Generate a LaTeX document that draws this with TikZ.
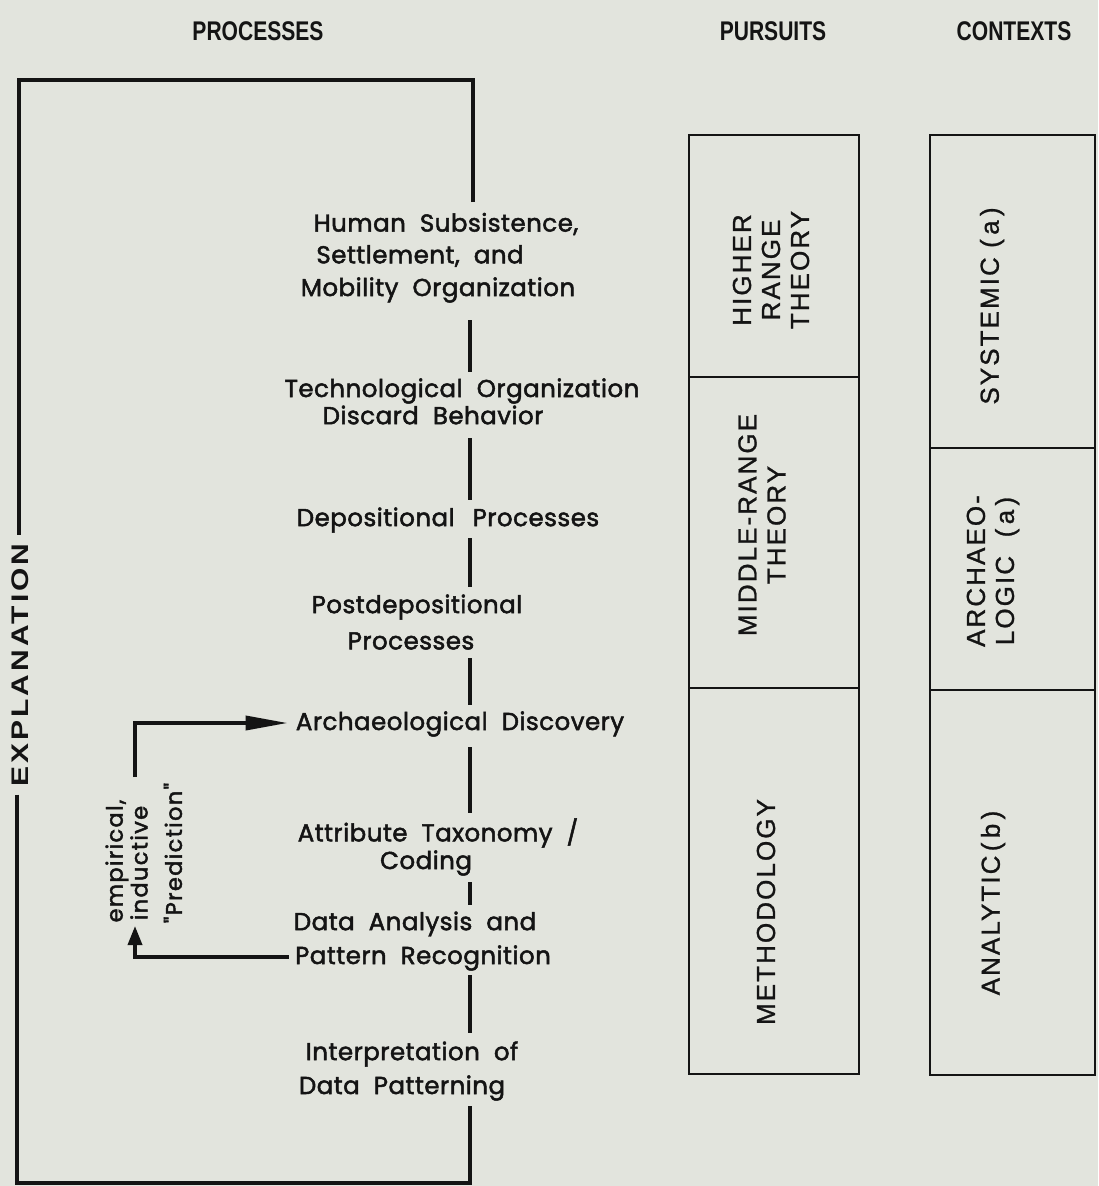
\documentclass[tikz,border=0pt]{standalone}
\usepackage{fontspec}
\usetikzlibrary{arrows.meta}
\newfontfamily\procfont{Poppins}[LetterSpace=2,WordSpace=2,FakeBold=2]
\newfontfamily\fbfont{Poppins}[LetterSpace=6,WordSpace=2,FakeBold=2]
\newfontfamily\labfont{Liberation Sans}[LetterSpace=8,FakeBold=1]
\newfontfamily\headfont{Liberation Sans}
\newfontfamily\explfont{Liberation Sans}[LetterSpace=10]
\definecolor{paper}{RGB}{226,228,221}
\definecolor{ink}{RGB}{20,20,20}
\begin{document}
\begin{tikzpicture}[x=1pt,y=-1pt,
  proc/.style={font=\procfont\fontsize{24.5}{28}\selectfont, text=ink, inner sep=0pt},
  fbl/.style={font=\fbfont\fontsize{22.5}{24}\selectfont, text=ink, inner sep=0pt, rotate=90},
  lab/.style={font=\labfont\fontsize{26}{29}\selectfont, text=ink, rotate=90, align=center, inner sep=0pt},
  head/.style={font=\headfont\bfseries\fontsize{27}{27}\selectfont, text=ink, inner sep=0pt},
  expl/.style={font=\explfont\bfseries\fontsize{24}{24}\selectfont, text=ink, rotate=90, inner sep=8pt},
  heavy/.style={line width=3.6pt, draw=ink},
  boxline/.style={line width=2.8pt, draw=ink},
  tip/.style={-{Triangle[length=42pt,width=14pt]}},
  smalltip/.style={-{Triangle[length=19pt,width=14pt]}},
]
\fill[paper] (0,0) rectangle (1098,1186);
\useasboundingbox (0,0) rectangle (1098,1186);

% headings
\node[head] (hproc) at (258,31) {\scalebox{0.78}[1]{PROCESSES}};
\node[head] (hpurs) at (773,31) {\scalebox{0.78}[1]{PURSUITS}};
\node[head] (hcont) at (1014,31) {\scalebox{0.78}[1]{CONTEXTS}};

% process items
\node[proc] (h1) at (446,224) {Human Subsistence,};
\node[proc] (h2) at (420,256) {Settlement, and};
\node[proc] (h3) at (438,290) {Mobility Organization};
\node[proc] (t1) at (462,391) {Technological Organization};
\node[proc] (t2) at (433,415) {Discard Behavior};
\node[proc] (d1) at (448,520) {Depositional\hspace{18pt}Processes};
\node[proc] (p1) at (417,607) {Postdepositional};
\node[proc] (p2) at (411,641) {Processes};
\node[proc] (ad) at (460,724) {Archaeological\hspace{14pt}Discovery};
\node[proc] (at1) at (438,833) {Attribute\hspace{14pt}Taxonomy\ /};
\node[proc] (at2) at (426,863) {Coding};
\node[proc] (da1) at (415,924) {Data Analysis and};
\node[proc] (pr) at (423,958) {Pattern Recognition};
\node[proc] (ip1) at (412,1054) {Interpretation of};
\node[proc] (ip2) at (402,1088) {Data Patterning};

% spine connectors
\coordinate (c1a) at (470,320); \coordinate (c1b) at (470,372);
\coordinate (c2a) at (470,438); \coordinate (c2b) at (470,500);
\coordinate (c3a) at (470,538); \coordinate (c3b) at (470,587);
\coordinate (c4a) at (470,658); \coordinate (c4b) at (470,705);
\coordinate (c5a) at (470,747); \coordinate (c5b) at (470,813);
\coordinate (c6a) at (470,882); \coordinate (c6b) at (470,905);
\coordinate (c7a) at (470,975); \coordinate (c7b) at (470,1033);
\foreach \i in {1,...,7} {\draw[heavy] (c\i a) -- (c\i b);}

% explanation bracket
\node[expl] (ex) at (20,665) {\scalebox{1.25}[1]{EXPLANATION}};
\coordinate (tl) at (19,80);
\coordinate (tr) at (473,80);
\coordinate (trend) at (473,202);
\coordinate (bl) at (17,1183);
\coordinate (br) at (470,1183);
\coordinate (brend) at (470,1106);
\draw[heavy] (trend) -- (tr) -- (tl) -- (tl |- ex.east);
\draw[heavy] (bl |- ex.west) -- (bl) -- (br) -- (brend);

% feedback loop
\node[fbl] (e1) at (117,861) {empirical,};
\node[fbl] (e2) at (139,863) {inductive};
\node[fbl] (e3) at (173,853) {"Prediction"};
\coordinate (a1) at (135,957);
\coordinate (a2) at (135,926);
\coordinate (b1) at (135,777);
\coordinate (b2) at (135,723);
\draw[heavy, smalltip] ([xshift=-6pt]pr.west |- a1) -- (a1) -- (a2);
\draw[heavy, tip, shorten >=8pt] (b1) -- (b2) -- (ad.west |- b2);

% pursuits column
\coordinate (pTL) at (689,135); \coordinate (pBR) at (859,1074);
\draw[boxline] (pTL) rectangle (pBR);
\draw[boxline] (689,377) -- (859,377);
\draw[boxline] (689,688) -- (859,688);
\node[lab] (hr) at (771,270) {HIGHER\\RANGE\\THEORY};
\node[lab] (mr) at (762,525) {MIDDLE-RANGE\\THEORY};
\node[lab] (me) at (766,912) {METHODOLOGY};

% contexts column
\coordinate (cTL) at (930,135); \coordinate (cBR) at (1095,1075);
\draw[boxline] (cTL) rectangle (cBR);
\draw[boxline] (930,448) -- (1095,448);
\draw[boxline] (930,690) -- (1095,690);
\node[lab] (sy) at (992,306) {SYSTEMIC\ (\,a\,)};
\node[lab] (ar) at (993,571) {ARCHAEO-\\LOGIC\ \ (\,a\,)};
\node[lab] (an) at (993,903) {ANALYTIC\,(\,b\,)};
\end{tikzpicture}
\end{document}
